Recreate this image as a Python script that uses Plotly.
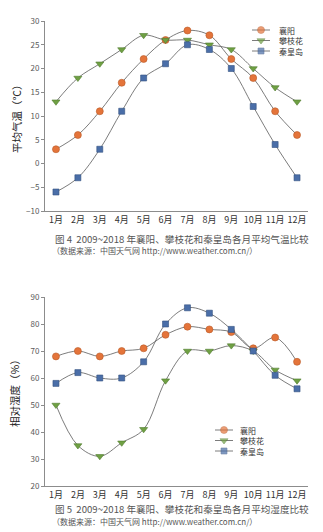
import plotly.graph_objects as go

months = ["1月", "2月", "3月", "4月", "5月", "6月", "7月", "8月", "9月", "10月", "11月", "12月"]
cities = ["襄阳", "攀枝花", "秦皇岛"]

temp_xiangyang = [3, 6, 11, 17, 22, 26, 28, 27, 22, 18, 11, 6]
temp_panzhihua = [13, 18, 21, 24, 27, 26, 26, 25, 24, 20, 16, 13]
temp_qinhuangdao = [-6, -3, 3, 11, 18, 21, 25, 24, 20, 12, 4, -3]

hum_xiangyang = [68, 70, 68, 70, 71, 76, 79, 78, 77, 71, 75, 66]
hum_panzhihua = [50, 35, 31, 36, 41, 59, 70, 70, 72, 70, 63, 59]
hum_qinhuangdao = [58, 62, 60, 60, 66, 80, 86, 84, 78, 70, 61, 56]

temp_ticks = [-10, -5, 0, 5, 10, 15, 20, 25, 30]
hum_ticks = [20, 30, 40, 50, 60, 70, 80, 90]

caption1 = "图 4  2009~2018 年襄阳、攀枝花和秦皇岛各月平均气温比较"
caption2 = "图 5  2009~2018 年襄阳、攀枝花和秦皇岛各月平均湿度比较"
source = "（数据来源：中国天气网 http://www.weather.com.cn/）"

FONT = "Noto Sans CJK SC"
LINE = "#5b5b5b"
styles = [
    dict(symbol="circle", color="#E4743A", edge="#B85A28", size=7),
    dict(symbol="triangle-down", color="#6FA043", edge="#4F7A2E", size=7),
    dict(symbol="square", color="#4A6EA8", edge="#33507F", size=6),
]

# figure-pixel layout helpers (plot area spans x 45..308, y 21..486)
L, R, T, B = 45, 308, 21, 486

def py(ypx):
    return (B - ypx) / (B - T)

def px(xpx):
    return (xpx - L) / (R - L)

fig = go.Figure()

temp_series = [temp_xiangyang, temp_panzhihua, temp_qinhuangdao]
hum_series = [hum_xiangyang, hum_panzhihua, hum_qinhuangdao]

def add_series(vals, name, st, xa, ya):
    fig.add_trace(go.Scatter(
        x=months, y=vals, name=name, mode="lines+markers",
        line=dict(color=LINE, width=0.8, shape="spline", smoothing=1),
        marker=dict(symbol=st["symbol"], color=st["color"], size=st["size"],
                    line=dict(color=st["edge"], width=0.6)),
        xaxis=xa, yaxis=ya, showlegend=False, hoverinfo="x+y+name",
    ))

for name, vals, st in zip(cities, temp_series, styles):
    add_series(vals, name, st, "x", "y")
for name, vals, st in zip(cities, hum_series, styles):
    add_series(vals, name, st, "x2", "y2")

# legend keys (drawn on a helper pixel axis so the rows can be packed tightly)
legend_blocks = [
    dict(x0=252, x1=270, tx=277, rows=[30, 40.5, 51]),
    dict(x0=215, x1=233, tx=238, rows=[430, 440.5, 451]),
]
annotations = []
for blk in legend_blocks:
    for name, st, ry in zip(cities, styles, blk["rows"]):
        fig.add_trace(go.Scatter(
            x=[blk["x0"], (blk["x0"] + blk["x1"]) / 2, blk["x1"]], y=[ry, ry, ry],
            mode="lines+markers", xaxis="x3", yaxis="y3", showlegend=False, hoverinfo="skip",
            line=dict(color=LINE, width=0.8),
            marker=dict(symbol=st["symbol"], color=st["color"], size=[0, st["size"], 0],
                        line=dict(color=st["edge"], width=[0, 0.6, 0])),
        ))
        annotations.append(dict(text=name, x=px(blk["tx"]), y=py(ry), xanchor="left",
                                font=dict(family=FONT, size=8, color="#333333")))

axis_common = dict(showgrid=False, zeroline=False, showline=True, linecolor="#8c8c8c",
                   linewidth=1)
xcommon = dict(axis_common, type="category", range=[-0.5, 11.5], ticks="", tickangle=0,
               tickfont=dict(family=FONT, size=9, color="#333333"))
ycommon = dict(axis_common, ticks="outside", ticklen=3, tickcolor="#8c8c8c",
               tickfont=dict(family=FONT, size=8, color="#595959"))

top_dom = [py(211), 1.0]
bot_dom = [0.0, py(297)]

fig.update_layout(
    width=323, height=532,
    margin=dict(l=L, r=323 - R, t=T, b=532 - B),
    paper_bgcolor="white", plot_bgcolor="rgba(0,0,0,0)",
    showlegend=False,
    xaxis=dict(xcommon, domain=[0, 1], anchor="y"),
    yaxis=dict(ycommon, domain=top_dom, range=[-10, 30], tickvals=temp_ticks, anchor="x"),
    xaxis2=dict(xcommon, domain=[0, 1], anchor="y2"),
    yaxis2=dict(ycommon, domain=bot_dom, range=[20, 90], tickvals=hum_ticks, anchor="x2"),
    xaxis3=dict(domain=[0, 1], range=[L, R], visible=False, fixedrange=True, anchor="y3"),
    yaxis3=dict(domain=[0, 1], range=[B, T], visible=False, fixedrange=True, anchor="x3"),
)

annotations += [
    dict(text="平均气温（℃）", x=px(16), y=py(116), textangle=-90, xanchor="center",
         font=dict(family=FONT, size=10.5, color="#222222")),
    dict(text="相对湿度（%）", x=px(14), y=py(391), textangle=-90, xanchor="center",
         font=dict(family=FONT, size=10.5, color="#222222")),
    dict(text=caption1, x=px(53), y=py(238.5), xanchor="left",
         font=dict(family=FONT, size=9.6, color="#555555")),
    dict(text=source, x=px(50), y=py(250.5), xanchor="left",
         font=dict(family=FONT, size=8, color="#555555")),
    dict(text=caption2, x=px(53), y=py(509), xanchor="left",
         font=dict(family=FONT, size=9.6, color="#555555")),
    dict(text=source, x=px(50), y=py(521), xanchor="left",
         font=dict(family=FONT, size=8, color="#555555")),
]
for a in annotations:
    a.update(xref="paper", yref="paper", showarrow=False, yanchor="middle")
fig.update_layout(annotations=annotations)

fig.write_html("out.html")
